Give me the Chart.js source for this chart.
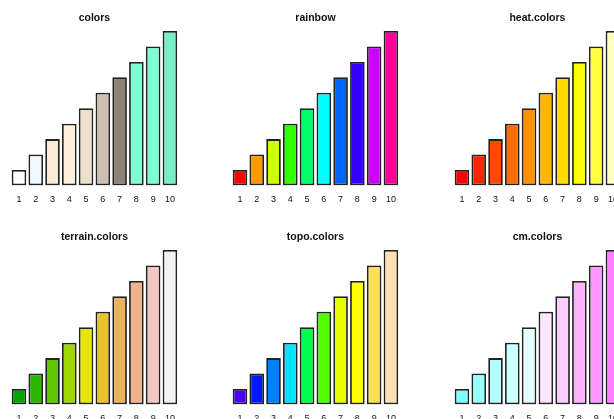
<!DOCTYPE html>
<html>
<head>
<meta charset="utf-8">
<script src="https://cdn.jsdelivr.net/npm/chart.js@4.4.1/dist/chart.umd.min.js"></script>
<style>
  html, body { margin: 0; padding: 0; background: #ffffff; width: 614px; height: 419px; overflow: hidden; }
  #wrap { position: relative; width: 614px; height: 419px; overflow: hidden; }
  canvas { position: absolute; }
</style>
</head>
<body>
<div id="wrap"></div>
<script>
const categories = ['1', '2', '3', '4', '5', '6', '7', '8', '9', '10'];
const values = [1, 2, 3, 4, 5, 6, 7, 8, 9, 10];

const titles = ['colors', 'rainbow', 'heat.colors', 'terrain.colors', 'topo.colors', 'cm.colors'];

const colorsPalette  = ['#FFFFFF', '#F0F8FF', '#FAEBD7', '#FFEFDB', '#EEDFCC', '#CDC0B0', '#8B8378', '#7FFFD4', '#7FFFD4', '#76EEC6'];
const rainbowPalette = ['#FF0000', '#FF9900', '#CCFF00', '#33FF00', '#00FF66', '#00FFFF', '#0066FF', '#3300FF', '#CC00FF', '#FF0099'];
const heatPalette    = ['#FF0000', '#FF2400', '#FF4900', '#FF6D00', '#FF9200', '#FFB600', '#FFDB00', '#FFFF00', '#FFFF40', '#FFFFBF'];
const terrainPalette = ['#00A600', '#2DB600', '#63C600', '#A0D600', '#E6E600', '#E8C32E', '#EBB25E', '#EDB48E', '#F0C9C0', '#F2F2F2'];
const topoPalette    = ['#4C00FF', '#0019FF', '#0080FF', '#00E5FF', '#00FF4D', '#4DFF00', '#E6FF00', '#FFFF00', '#FFDE59', '#FFE0B3'];
const cmPalette      = ['#80FFFF', '#99FFFF', '#B3FFFF', '#CCFFFF', '#E6FFFF', '#FFE6FF', '#FFCCFF', '#FFB3FF', '#FF99FF', '#FF80FF'];

const palettes = [colorsPalette, rainbowPalette, heatPalette, terrainPalette, topoPalette, cmPalette];

const PANEL_W = 664 / 3;
const PANEL_H = 219;
const CANVAS_W = 222;

const wrap = document.getElementById('wrap');

palettes.forEach((pal, i) => {
  const row = Math.floor(i / 3);
  const col = i % 3;
  const cv = document.createElement('canvas');
  cv.width = CANVAS_W;
  cv.height = PANEL_H;
  cv.style.width = CANVAS_W + 'px';
  cv.style.height = PANEL_H + 'px';
  cv.style.left = Math.round(col * PANEL_W) + 'px';
  cv.style.top = (row * PANEL_H) + 'px';
  wrap.appendChild(cv);

  new Chart(cv.getContext('2d'), {
    type: 'bar',
    data: {
      labels: categories,
      datasets: [{
        data: values,
        backgroundColor: pal,
        borderColor: '#222222',
        borderWidth: 1.8,
        borderSkipped: false,
        barPercentage: 0.87,
        categoryPercentage: 1.0
      }]
    },
    options: {
      responsive: false,
      animation: false,
      devicePixelRatio: 1,
      layout: { padding: { left: 10.6, right: CANVAS_W - 178.3, top: 0, bottom: 5.6 } },
      plugins: {
        legend: { display: false },
        tooltip: { enabled: false },
        title: {
          display: true,
          text: titles[i],
          color: '#111111',
          font: { family: 'Liberation Sans, Arial, sans-serif', size: 10.5, weight: 'bold', lineHeight: 1.2 },
          padding: { top: 12, bottom: 6.4 }
        }
      },
      scales: {
        x: {
          grid: { display: false, drawTicks: false },
          border: { display: false },
          ticks: {
            color: '#111111',
            padding: 8.6,
            maxRotation: 0,
            autoSkip: false,
            font: { family: 'Liberation Sans, Arial, sans-serif', size: 9, lineHeight: 1.2 }
          }
        },
        y: {
          display: false,
          min: 0,
          max: 10,
          grid: { display: false }
        }
      }
    }
  });
});
</script>
</body>
</html>
